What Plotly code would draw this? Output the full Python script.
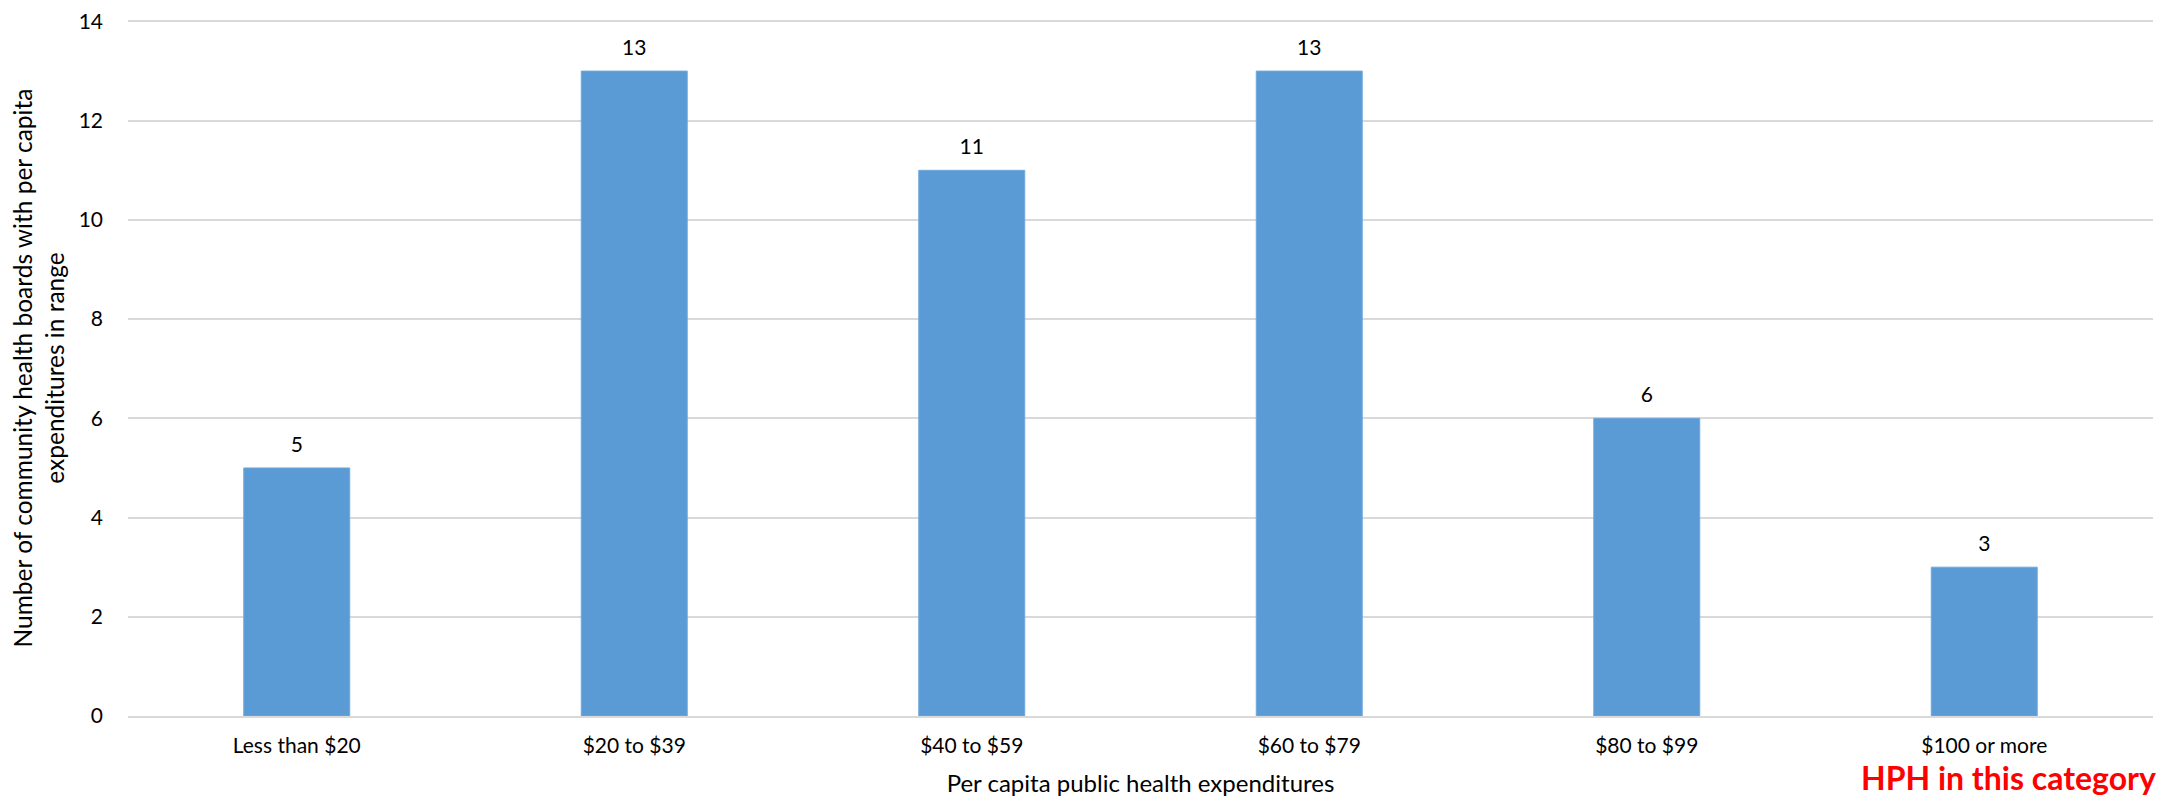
import plotly.graph_objects as go

categories = ["Less than $20", "$20 to $39", "$40 to $59", "$60 to $79", "$80 to $99", "$100 or more"]
boards = [5, 13, 11, 13, 6, 3]
y_ticks = [0, 2, 4, 6, 8, 10, 12, 14]

FONT = "Lato, Carlito, Calibri, sans-serif"

fig = go.Figure()
fig.add_trace(go.Bar(
    x=categories, y=boards,
    marker=dict(color="#5b9bd5", line=dict(color="#6fa8dc", width=1)),
))
# value labels sit a bit above the bars, like in Excel
fig.add_trace(go.Scatter(
    x=categories, y=boards, mode="markers+text",
    marker=dict(size=16, opacity=0),
    text=boards, textposition="top center", cliponaxis=False,
    textfont=dict(size=21, color="#000000", family=FONT),
    hoverinfo="skip",
))

# the page body adds 8px around the figure, so size it to fit the window
fig.update_layout(
    width=2164, height=789,
    margin=dict(l=120, r=19, t=12, b=81),
    paper_bgcolor="white", plot_bgcolor="white",
    bargap=0.686,
    showlegend=False,
    font=dict(family=FONT, size=21, color="#000000"),
)

# range goes a hair past 14 so the top gridline is still drawn
fig.update_yaxes(
    range=[0, 14.03], tickvals=y_ticks,
    showgrid=True, gridcolor="#d9d9d9", gridwidth=1.5,
    zeroline=False, showline=False,
    ticklabelstandoff=24, ticklabeloverflow="allow",
    tickfont=dict(size=21),
    automargin=False,
    title=dict(text="Number of community health boards with per capita<br>expenditures in range",
               font=dict(size=24.5), standoff=11),
)
fig.update_xaxes(
    showline=True, linecolor="#d9d9d9", linewidth=2,
    ticklabelstandoff=10,
    tickfont=dict(size=21),
    automargin=False,
    title=dict(text="Per capita public health expenditures", font=dict(size=24), standoff=21),
)

fig.add_annotation(
    xref="paper", yref="paper", x=1.0025, y=-0.0885,
    xanchor="right", yanchor="middle", showarrow=False,
    text="<b>HPH in this category</b>",
    font=dict(size=32, color="#ff0000", family=FONT),
)

fig.write_html("out.html")
